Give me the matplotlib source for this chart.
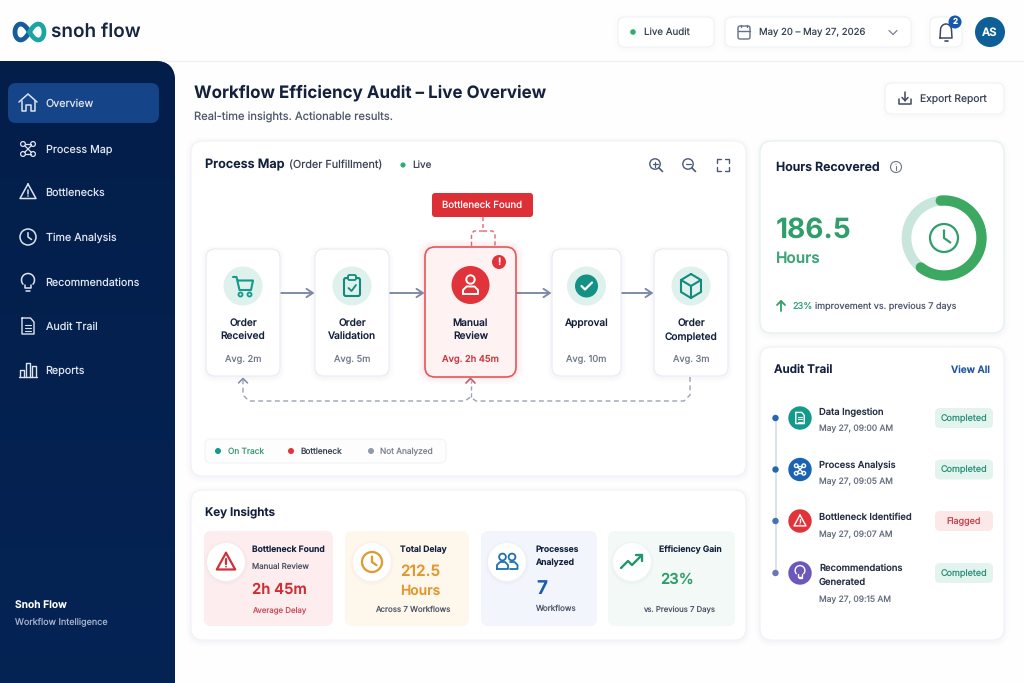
"""Snoh Flow workflow audit dashboard, drawn on one full-figure axes in pixel units."""
import matplotlib
matplotlib.use("Agg")
import matplotlib.pyplot as plt
import numpy as np
from matplotlib.patches import Circle, FancyBboxPatch

plt.rcParams["font.family"] = ["Inter", "DejaVu Sans"]
plt.rcParams["text.hinting"] = "no_hinting"

# ── data ────────────────────────────────────────────────────────────────────
NAV_ITEMS = ["Overview", "Process Map", "Bottlenecks", "Time Analysis",
             "Recommendations", "Audit Trail", "Reports"]
NODE_NAMES = [["Order", "Received"], ["Order", "Validation"], ["Manual", "Review"],
              ["Approval"], ["Order", "Completed"]]
NODE_AVG = ["Avg. 2m", "Avg. 5m", "Avg. 2h 45m", "Avg. 10m", "Avg. 3m"]
LEGEND_ITEMS = ["On Track", "Bottleneck", "Not Analyzed"]
AUDIT_NAMES = [["Data Ingestion"], ["Process Analysis"], ["Bottleneck Identified"],
               ["Recommendations", "Generated"]]
AUDIT_TIMES = ["May 27, 09:00 AM", "May 27, 09:05 AM", "May 27, 09:07 AM", "May 27, 09:15 AM"]
AUDIT_STATUS = ["Completed", "Completed", "Flagged", "Completed"]
HOURS_RECOVERED = 186.5
HOURS_RING_SHARE = 0.62
IMPROVEMENT_PCT = 23
TOTAL_DELAY = 212.5
WORKFLOWS = 7

# ── colours ─────────────────────────────────────────────────────────────────
INK = "#14213d"
GREY = "#5d6678"
RED = "#dc2f36"
TEAL = "#14998a"
TEAL_PALE = "#dff1ec"
GREEN = "#2f9e6b"
BLUE = "#1b5cab"
ORANGE = "#e0992f"
SLATE = "#7f8ca8"

fig = plt.figure(figsize=(10.24, 6.83), dpi=100, facecolor="#fefefe")
ax = fig.add_axes([0, 0, 1, 1])


def box(x0, y0, x1, y1, r=8, fc="white", ec="none", lw=1.0, z=2, alpha=None):
    p = FancyBboxPatch((x0, y0), x1 - x0, y1 - y0, boxstyle=f"round,pad=0,rounding_size={r}",
                       fc=fc, ec=ec, lw=lw, zorder=z, alpha=alpha)
    ax.add_patch(p)
    return p


def card(x0, y0, x1, y1, r=10, ec="#f0f2f5", fc="white", z=2, shadow="#5a6a8a"):
    for grow in (5, 3.5, 2, 1):
        box(x0 - grow, y0 - grow + 1.5, x1 + grow, y1 + grow + 1.5, r + grow, fc=shadow,
            z=z - 0.5, alpha=0.007)
    box(x0, y0, x1, y1, r, fc=fc, ec=ec, lw=0.8, z=z)


def txt(x, y, s, size=11, color=INK, weight="normal", ha="left", z=6):
    # sizes are given in px for a slightly narrower face than Inter, hence 0.65
    ax.text(x, y + 0.5, s, fontsize=size * 0.65, color=color, fontweight=weight, ha=ha,
            va="center", zorder=z)


def line(xs, ys, color, lw=1.4, z=5, ls="-", cap="round"):
    ax.plot(xs, ys, color=color, lw=lw, zorder=z, ls=ls, solid_capstyle=cap,
            solid_joinstyle="round", dash_capstyle="butt")


def dot(x, y, r, color, z=4, ec="none", lw=1.0, fill=True):
    ax.add_patch(Circle((x, y), r, fc=color if fill else "none",
                        ec=color if not fill else ec, lw=lw, zorder=z))


# ── icons ───────────────────────────────────────────────────────────────────
def ic_home(x, y, c, lw=1.1):
    line([x - 9, x, x + 9], [y - 1, y - 9, y - 1], c, lw)
    line([x - 6.5, x - 6.5, x - 2.5, x - 2.5, x + 2.5, x + 2.5, x + 6.5, x + 6.5],
         [y - 2, y + 8, y + 8, y + 2, y + 2, y + 8, y + 8, y - 2], c, lw)


def ic_nodes(x, y, c, s=1.0, lw=0.9, z=7):
    for dx, dy in [(-5, -5), (5, -5), (-5, 5), (5, 5)]:
        dot(x + dx * s, y + dy * s, 2.4 * s, c, z=z, fill=False, lw=lw)
    line([x - 3 * s, x + 3 * s], [y - 5 * s, y - 5 * s], c, lw, z)
    line([x - 3 * s, x + 3 * s], [y + 5 * s, y + 5 * s], c, lw, z)
    line([x - 3.5 * s, x + 3.5 * s], [y - 3.5 * s, y + 3.5 * s], c, lw, z)
    line([x + 3.5 * s, x - 3.5 * s], [y - 3.5 * s, y + 3.5 * s], c, lw, z)


def ic_warn(x, y, c, s=1.0, lw=1.1, z=7):
    line([x, x + 8 * s, x - 8 * s, x], [y - 8 * s, y + 6.5 * s, y + 6.5 * s, y - 8 * s], c, lw, z)
    line([x, x], [y - 2.5 * s, y + 1.5 * s], c, lw, z)
    dot(x, y + 4 * s, 0.8 * s, c, z=z)


def ic_clock(x, y, c, r=8, lw=1.1, z=7):
    dot(x, y, r, c, z=z, fill=False, lw=lw)
    line([x, x, x + r * 0.45], [y - r * 0.55, y, y + r * 0.32], c, lw, z)


def ic_bulb(x, y, c, s=1.0, lw=1.1, z=7):
    t = np.radians(np.linspace(-220, 40, 40))
    line(x + 6.5 * s * np.cos(t), y - 2 * s + 6.5 * s * np.sin(t), c, lw, z)
    line([x - 3 * s, x - 3 * s, x + 3 * s, x + 3 * s], [y + 3 * s, y + 6 * s, y + 6 * s, y + 3 * s], c, lw, z)
    line([x - 2 * s, x + 2 * s], [y + 8.5 * s, y + 8.5 * s], c, lw, z)


def ic_doc(x, y, c, s=1.0, lw=1.0, z=7):
    line([x - 6 * s, x + 2.5 * s, x + 6 * s, x + 6 * s, x - 6 * s, x - 6 * s],
         [y - 8 * s, y - 8 * s, y - 4 * s, y + 8 * s, y + 8 * s, y - 8 * s], c, lw, z)
    for dy in (-1, 2, 5):
        line([x - 3 * s, x + 3 * s], [y + dy * s, y + dy * s], c, lw * 0.8, z)


def ic_bars(x, y, c, lw=1.0):
    for dx, top in [(-6, 0), (0, -7), (6, -4)]:
        line([x + dx - 2.2, x + dx - 2.2, x + dx + 2.2, x + dx + 2.2],
             [y + 7, y + top, y + top, y + 7], c, lw)
    line([x - 9, x + 9], [y + 7, y + 7], c, lw)


def ic_cart(x, y, c):
    line([x - 10, x - 6.5, x - 3.5, x + 8, x + 10, x - 5], [y - 9, y - 9, y + 4, y + 4, y - 5.5, y - 5.5], c, 1.5, 7)
    dot(x - 2.5, y + 8.5, 2, c, z=7, fill=False, lw=1.3)
    dot(x + 6.5, y + 8.5, 2, c, z=7, fill=False, lw=1.3)


def ic_clip(x, y, c):
    box(x - 8, y - 8, x + 8, y + 10, 2, fc="none", ec=c, lw=1.5, z=7)
    box(x - 4, y - 11, x + 4, y - 6, 1.5, fc=TEAL_PALE, ec=c, lw=1.3, z=8)
    line([x - 3.5, x - 0.5, x + 4], [y + 2, y + 5, y - 1], c, 1.3, 8)


def ic_cube(x, y, c):
    px = [x, x + 10, x + 10, x, x - 10, x - 10, x]
    py = [y - 12, y - 6, y + 6, y + 12, y + 6, y - 6, y - 12]
    line(px, py, c, 1.5, 7)
    line([x - 10, x, x + 10], [y - 6, y, y - 6], c, 1.5, 7)
    line([x, x], [y, y + 12], c, 1.5, 7)


def ic_person(x, y, c):
    dot(x, y - 5.5, 4.2, c, z=7, fill=False, lw=1.4)
    line([x - 7.5, x - 7.5, x - 4, x + 4, x + 7.5, x + 7.5, x - 7.5],
         [y + 9, y + 5, y + 1.5, y + 1.5, y + 5, y + 9, y + 9], c, 1.4, 7)


def ic_check(x, y, c, lw=1.6):
    line([x - 5, x - 1.5, x + 5.5], [y, y + 3.5, y - 3.5], c, lw, 7)


def ic_people(x, y, c):
    for dx in (-4.5, 5):
        dot(x + dx, y - 5, 3.4, c, z=7, fill=False, lw=1.3)
    line([x - 10, x - 10, x - 7, x - 2, x + 1, x + 1, x - 10],
         [y + 7, y + 3, y, y, y + 3, y + 7, y + 7], c, 1.3, 7)
    line([x + 3, x + 7.5, x + 10.5, x + 10.5, x + 3], [y, y, y + 3, y + 7, y + 7], c, 1.3, 7)


def ic_trend(x, y, c):
    line([x - 11, x - 4, x, x + 10], [y + 6, y - 1, y + 3, y - 7], c, 1.7, 7)
    line([x + 4, x + 10, x + 10], [y - 7, y - 7, y - 1], c, 1.7, 7)


# ── page frame ──────────────────────────────────────────────────────────────
line([150, 1024], [60.5, 60.5], "#eef0f3", 1.0, 1)

sidebar = box(-30, 61, 175, 720, 20, fc="#03204e", z=2)
grad = np.linspace(0, 1, 64)[:, None, None] * np.array([[[0.006, 0.02, 0.04]]]) + np.array([[[0.012, 0.118, 0.290]]])
im = ax.imshow(grad, extent=(0, 175, 683, 61), aspect="auto", zorder=2.1)
im.set_clip_path(sidebar)
ax.set_xlim(0, 1024)
ax.set_ylim(683, 0)
ax.axis("off")

# logo
t_logo = np.linspace(-np.pi / 2, np.pi / 2, 60)
loop_x = 14.5 * np.cos(t_logo) / (1 + np.sin(t_logo) ** 2)
loop_y = 14.5 * 1.55 * np.sin(t_logo) * np.cos(t_logo) / (1 + np.sin(t_logo) ** 2)
line(29.5 - loop_x, 32 + loop_y, "#155c9c", 3.4, 3)
line(29.5 + loop_x, 32 + loop_y, "#1aa5a4", 3.4, 3)
txt(51, 31, "snoh flow", 21, "#172640", "semibold")

# top bar
card(618, 17, 714, 47, 7, shadow="#8090a8")
dot(633, 32, 2.8, "#2fae6e", z=6)
txt(644, 32, "Live Audit", 10.8, "#3a4456")
card(725, 17, 911, 47, 7, shadow="#8090a8")
box(738, 26, 750, 39, 2, fc="none", ec="#66708a", lw=1.0, z=6)
line([738, 750], [30.5, 30.5], "#66708a", 1.0, 6)
line([741, 741], [24.5, 27], "#66708a", 1.0, 6)
line([747, 747], [24.5, 27], "#66708a", 1.0, 6)
txt(759, 32, "May 20 – May 27, 2026", 10.6, "#3a4456")
line([889, 893, 897], [30.5, 34.5, 30.5], "#77818f", 0.9, 6)
card(930, 17, 962, 47, 7, shadow="#8090a8")
t_bell = np.radians(np.linspace(180, 360, 30))
line(np.r_[940, 946 + 5.5 * np.cos(t_bell), 952, 940], np.r_[38, 30 + 6 * np.sin(t_bell), 38, 38], "#3d4a5e", 1.1, 6)
line([944.5, 947.5], [40.5, 40.5], "#3d4a5e", 1.2, 6)
dot(955, 22, 6.5, "#1557b0", z=7)
txt(955, 21.5, "2", 9, "white", "bold", "center", z=8)
dot(990, 32, 15, "#0e5f98", z=4)
txt(990, 32, "AS", 12.5, "white", "semibold", "center")

# ── sidebar ─────────────────────────────────────────────────────────────────
NAV_Y = [103, 149, 192, 237, 282, 326, 370]
NAV_ICONS = [ic_home, lambda x, y, c: ic_nodes(x, y, c), lambda x, y, c: ic_warn(x, y, c),
             lambda x, y, c: ic_clock(x, y, c), lambda x, y, c: ic_bulb(x, y, c),
             lambda x, y, c: ic_doc(x, y, c), ic_bars]
box(8, 83, 159, 123, 8, fc="#164489", z=3)
for name, ny, draw_icon in zip(NAV_ITEMS, NAV_Y, NAV_ICONS):
    draw_icon(28, ny, "#dde3ee")
    txt(45.5, ny, name, 11.9, "#dfe5f0")
txt(15, 604.5, "Snoh Flow", 11.4, "white", "semibold")
txt(15, 621.5, "Workflow Intelligence", 10, "#a5b3c9")

# ── heading ─────────────────────────────────────────────────────────────────
txt(194, 92, "Workflow Efficiency Audit – Live Overview", 18.8, "#14213d", "bold")
txt(194, 116.5, "Real-time insights. Actionable results.", 12.4, "#4e586b")
card(885, 83, 1004, 114, 7, shadow="#8090a8")
line([899, 899, 911, 911], [99, 104, 104, 99], "#3d4a5e", 1.1, 6)
line([905, 905], [92, 100.5], "#3d4a5e", 1.1, 6)
line([902, 905, 908], [97.5, 100.5, 97.5], "#3d4a5e", 1.1, 6)
txt(920, 98.5, "Export Report", 11.4, "#3a4456")

# ── process map panel ───────────────────────────────────────────────────────
card(191, 141, 746, 476, 12)
txt(205, 164.5, "Process Map", 14, INK, "semibold")
txt(289, 165, "(Order Fulfillment)", 12, "#3a4456")
dot(403, 165, 2.6, "#2fae6e", z=6)
txt(412, 165, "Live", 11, "#3a4456")
for zx, sign in [(655, True), (688, False)]:
    dot(zx, 164, 5.2, "#4a5a78", z=6, fill=False, lw=1.0)
    line([zx + 3.8, zx + 7.5], [167.8, 171.5], "#4a5a78", 1.2, 6)
    line([zx - 2.5, zx + 2.5], [164, 164], "#4a5a78", 0.9, 6)
    if sign:
        line([zx, zx], [161.5, 166.5], "#4a5a78", 0.9, 6)
for sx, sy in [(-1, -1), (1, -1), (-1, 1), (1, 1)]:
    line([723 + sx * 6, 723 + sx * 6, 723 + sx * 2],
         [165 + sy * 2, 165 + sy * 6, 165 + sy * 6], "#4a5a78", 1.0, 6)

NODE_X0 = [206, 315, 425, 552, 654]
NODE_X1 = [280, 389, 516, 621, 728]
ARROW_Y = 293
for i in range(4):
    ax.annotate("", xy=(NODE_X0[i + 1] - 0.5, ARROW_Y), xytext=(NODE_X1[i], ARROW_Y),
                arrowprops=dict(arrowstyle="->,head_length=0.45,head_width=0.3", color=SLATE, lw=1.4,
                                shrinkA=0, shrinkB=0), zorder=3)

for i in range(5):
    cx = (NODE_X0[i] + NODE_X1[i]) / 2
    if i == 2:
        for grow in (7, 5, 3, 1.5):
            box(NODE_X0[i] - grow, 247 - grow, NODE_X1[i] + grow, 377 + grow, 10 + grow, fc=RED, z=3.5, alpha=0.025)
        box(NODE_X0[i], 247, NODE_X1[i], 377, 10, fc="#fef2f2", ec="#e4575c", lw=1.2, z=4)
        dot(cx, 285, 19, "#e0343a", z=5)
        ic_person(cx, 285, "white")
        dot(499, 262, 7, "#e0343a", z=6)
        txt(499, 261.5, "!", 11, "white", "bold", "center", z=7)
    else:
        card(NODE_X0[i], 249, NODE_X1[i], 376, 9, ec="#e8ebef", z=4)
        dot(cx, 286, 19.5, TEAL_PALE, z=5)
    if i == 0:
        ic_cart(cx, 286, TEAL)
    elif i == 1:
        ic_clip(cx, 286, "#138a7d")
    elif i == 3:
        dot(cx, 286, 11.5, "#129184", z=6)
        ic_check(cx, 286, "white")
    elif i == 4:
        ic_cube(cx, 286, "#138a7d")
    for j, part in enumerate(NODE_NAMES[i]):
        txt(cx, 322.5 + j * 13.7, part, 11.2, INK, "medium", "center")
    txt(cx, 358.5, NODE_AVG[i], 10.3, "#c93a42" if i == 2 else "#717a8a", "medium" if i == 2 else "normal", "center")

# bottleneck callout
box(432, 193, 533, 217, 3, fc=RED, z=6)
txt(482.5, 204.5, "Bottleneck Found", 10.7, "white", "normal", "center", z=7)
line([483, 483, 474, 471.5, 471.5], [217, 231, 231, 233.5, 247], "#dd6a70", 1.0, 3, (0, (3, 2)))
line([483, 492.5, 495, 495], [231, 231, 233.5, 247], "#dd6a70", 1.0, 3, (0, (3, 2)))

# dashed return paths
line([690, 690, 684, 476, 470.5, 465, 249, 243, 243], [377, 395, 401, 401, 397, 401, 401, 395, 380],
     "#9aa2b6", 1.0, 3, (0, (3.5, 2.5)))
line([470.5, 470.5], [397, 381], "#9aa2b6", 1.0, 3, (0, (3, 2)))
line([238.5, 243, 247.5], [383, 378.5, 383], SLATE, 1.1, 3)
line([466, 470.5, 475], [383, 378.5, 383], "#c45a68", 1.2, 5)

# legend
card(205, 439, 446, 463, 6, ec="#f2f3f6", fc="#fdfdfd", shadow="#9aa4b5")
for label, lx, col, tcol in zip(LEGEND_ITEMS, [218, 291, 371], [TEAL, "#e2323a", "#9098ad"],
                                ["#3f9a78", "#3a4456", "#7c8493"]):
    dot(lx, 451, 3, col, z=6)
    txt(lx + 9.5, 451, label, 9.2, tcol)

# ── key insights panel ──────────────────────────────────────────────────────
card(191, 490, 746, 640, 12)
txt(205, 511.5, "Key Insights", 13, INK, "semibold")
INSIGHT_X0 = [204, 345, 481, 608]
INSIGHT_X1 = [333, 469, 597, 735]
INSIGHT_BG = ["#fdedee", "#fef7ec", "#f2f6fc", "#f2f9f6"]
INSIGHT_CX = [226, 372, 507, 632]
for x0, x1, bg, cx in zip(INSIGHT_X0, INSIGHT_X1, INSIGHT_BG, INSIGHT_CX):
    box(x0, 531, x1, 626, 7, fc=bg, z=3)
    for grow in (3, 1.5):
        dot(cx, 563, 19 + grow, "#8a8fa0", z=3.5)
        ax.patches[-1].set_alpha(0.025)
    dot(cx, 562, 19, "white", z=4)
ic_warn(226, 562, "#cf3138", 1.15, 1.6)
ic_clock(372, 562, ORANGE, 10, 1.6)
ic_people(507, 562, "#1f6fb5")
ic_trend(632, 562, "#24966a")

txt(252, 549.5, "Bottleneck Found", 9.5, INK, "semibold")
txt(252, 566.5, "Manual Review", 8.8, "#4d5565")
txt(252, 589.5, "2h 45m", 16.5, "#d02c33", "semibold")
txt(252, 609.5, "Average Delay", 8.7, "#c9505a")
txt(400, 549.5, "Total Delay", 9.5, INK, "semibold")
txt(400, 571.5, f"{TOTAL_DELAY}", 17, ORANGE, "semibold")
txt(400, 590.5, "Hours", 15.3, ORANGE, "semibold")
txt(375, 609.5, f"Across {WORKFLOWS} Workflows", 8.8, "#4d5565")
txt(536, 549.5, "Processes", 9.5, INK, "semibold")
txt(536, 562.5, "Analyzed", 9.5, INK, "semibold")
txt(536, 588.5, f"{WORKFLOWS}", 21, BLUE, "bold")
txt(535, 608.5, "Workflows", 8.9, "#4d5565")
txt(659, 549.5, "Efficiency Gain", 9.5, INK, "semibold")
txt(660, 579.5, f"{IMPROVEMENT_PCT}%", 16.5, GREEN, "semibold")
txt(643, 608.5, "vs. Previous 7 Days", 8.6, "#4d5565")

# ── hours recovered panel ───────────────────────────────────────────────────
card(760, 141, 1004, 333, 12, ec="#e2f0ec")
txt(776, 166.5, "Hours Recovered", 13.7, INK, "semibold")
dot(896, 167, 5.5, "#6d7687", z=6, fill=False, lw=0.8)
line([896, 896], [166, 170], "#6d7687", 0.8, 6)
dot(896, 164.2, 0.6, "#6d7687", z=6)
txt(776, 230, f"{HOURS_RECOVERED}", 31, GREEN, "bold")
txt(776, 258.5, "Hours", 17, "#3fa477", "semibold")

RING_C, RING_R = (944, 238), 37.5
t_ring = np.radians(np.linspace(0, 360, 181))
line(RING_C[0] + RING_R * np.cos(t_ring), RING_C[1] + RING_R * np.sin(t_ring), "#c8e6db", 7.0, 4)
t_arc = np.radians(-95 + np.linspace(0, 360 * HOURS_RING_SHARE, 120))
line(RING_C[0] + RING_R * np.cos(t_arc), RING_C[1] + RING_R * np.sin(t_arc), "#3ca862", 7.4, 5)
ic_clock(RING_C[0], RING_C[1], "#2f9e6b", 14, 1.6)

line([781, 781], [311, 301], GREEN, 1.3, 6)
line([777, 781, 785], [305, 301, 305], GREEN, 1.3, 6)
txt(792, 305.5, f"{IMPROVEMENT_PCT}%", 10.2, "#35a074")
txt(815, 305.5, "improvement vs. previous 7 days", 10, "#4e586b")

# ── audit trail panel ───────────────────────────────────────────────────────
card(760, 347, 1004, 640, 12)
txt(774, 369.5, "Audit Trail", 13, INK, "semibold")
txt(990, 369.5, "View All", 11, "#1f55a5", "semibold", "right")
AUDIT_Y = [418, 469.5, 521, 573]
AUDIT_COL = ["#149a8c", "#1b63b5", "#e0343a", "#6c57bd"]
DOT_COL = ["#2567ae", "#2567ae", "#4472ae", "#6a75b5"]
NAME_Y = [412, 465, 517, 568]
TIME_Y = [428, 481, 534, 599]
AUDIT_GLYPH = [lambda x, y: ic_doc(x, y, "white", 0.7, 1.0),
               lambda x, y: ic_nodes(x, y, "white", 0.75, 1.0),
               lambda x, y: ic_warn(x, y, "white", 0.75, 1.0),
               lambda x, y: ic_bulb(x, y - 1, "white", 0.75, 1.0)]
line([775.5, 775.5], AUDIT_Y[0:1] + AUDIT_Y[-1:], "#d5dae4", 1.1, 3)
for i in range(4):
    ay = AUDIT_Y[i]
    dot(775.5, ay, 3.2, DOT_COL[i], z=4)
    dot(800, ay, 11.7, AUDIT_COL[i], z=4)
    AUDIT_GLYPH[i](800, ay)
    for j, part in enumerate(AUDIT_NAMES[i]):
        txt(819, NAME_Y[i] + j * 14, part, 10.4, "#242e42", "medium")
    txt(819, TIME_Y[i], AUDIT_TIMES[i], 9.4, "#6a7282")
    flagged = AUDIT_STATUS[i] == "Flagged"
    box(935, ay - 10, 993, ay + 10, 5, fc="#fde8e8" if flagged else "#e3f4ee", z=4)
    txt(964, ay, AUDIT_STATUS[i], 10, "#c0424f" if flagged else "#2b8f7a", "normal", "center")

fig.savefig("out.png", dpi=100, facecolor=fig.get_facecolor())
